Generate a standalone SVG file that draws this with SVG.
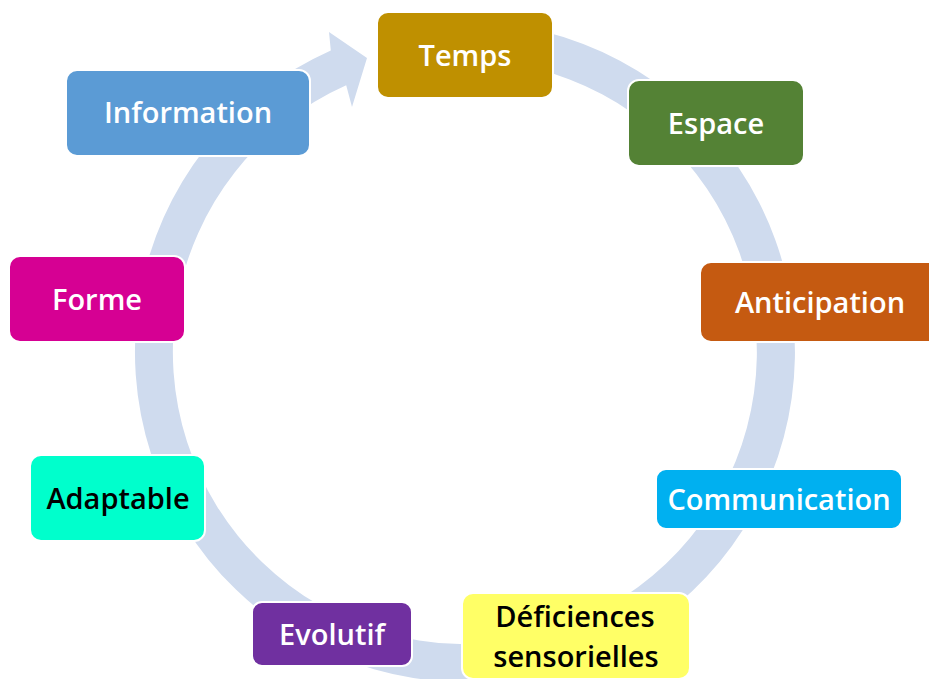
<svg xmlns="http://www.w3.org/2000/svg" width="929" height="679" viewBox="0 0 929 679">
<style>
.box{stroke:#ffffff;stroke-width:2}
.lbl{font-family:"Open Sans","Noto Sans","DejaVu Sans",sans-serif;font-size:29px;font-weight:600;text-anchor:middle;fill:#ffffff}
.dark{fill:#000000}
</style>
<rect width="929" height="679" fill="#ffffff"/>
<g id="connectors">
<path d="M 465 22 A 330 330 0 1 1 330.8 50.5 L 329 32 L 367 58 L 352 107 L 346.2 85.2 A 292 292 0 1 0 465 60 Z" fill="#CFDBEE"/>
</g>
<g id="temps"><rect class="box" x="377" y="12" width="176" height="86" rx="11" fill="#BF9000"/><text class="lbl" x="465" y="66">Temps</text></g>
<g id="espace"><rect class="box" x="628" y="80" width="176" height="86" rx="11" fill="#548235"/><text class="lbl" x="716" y="134">Espace</text></g>
<g id="anticipation"><rect class="box" x="700" y="262" width="242" height="80" rx="11" fill="#C55A11"/><text class="lbl" x="820" y="313">Anticipation</text></g>
<g id="communication"><rect class="box" x="656" y="469" width="246" height="60" rx="10" fill="#00B0F0"/><text class="lbl" x="779" y="510">Communication</text></g>
<g id="deficiences"><rect class="box" x="462" y="593" width="228" height="86" rx="11" fill="#FFFF66"/><text class="lbl dark" x="575" y="627">Déficiences</text><text class="lbl dark" x="576" y="667">sensorielles</text></g>
<g id="evolutif"><rect class="box" x="252" y="602" width="160" height="64" rx="10" fill="#7030A0"/><text class="lbl" x="332" y="645">Evolutif</text></g>
<g id="adaptable"><rect class="box" x="30" y="455" width="175" height="86" rx="11" fill="#00FFCC"/><text class="lbl dark" x="118" y="509">Adaptable</text></g>
<g id="forme"><rect class="box" x="9" y="256" width="176" height="86" rx="11" fill="#D60093"/><text class="lbl" x="97" y="310">Forme</text></g>
<g id="information"><rect class="box" x="66" y="70" width="244" height="86" rx="11" fill="#5B9BD5"/><text class="lbl" x="188" y="123">Information</text></g>
</svg>
